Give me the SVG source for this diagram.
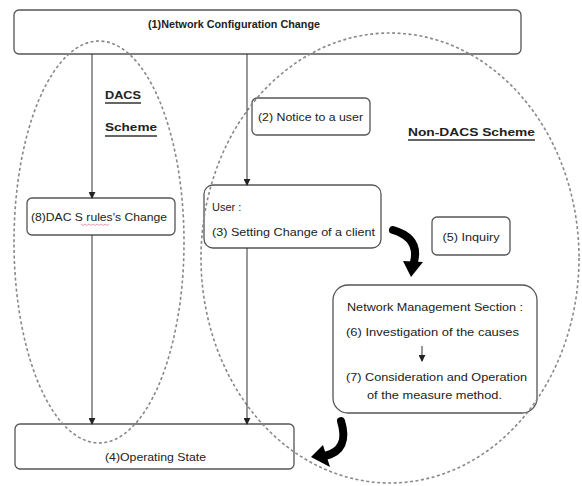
<svg xmlns="http://www.w3.org/2000/svg" width="582" height="486" viewBox="0 0 582 486">
<defs>
<style>
.box{fill:#fff;stroke:#555;stroke-width:1.3}
.scope{fill:none;stroke:#888;stroke-width:1.6;stroke-dasharray:3 2.5}
.t{font-family:"Liberation Sans",Arial,sans-serif;font-size:11px;fill:#222}
.b{font-weight:bold}
.ul{stroke:#333;stroke-width:1.4}
.ln{stroke:#333;stroke-width:1;fill:none}
.thick{fill:none;stroke:#000;stroke-width:8;stroke-linecap:round}
</style>
<marker id="ah" viewBox="0 0 8 8" refX="7" refY="4" markerWidth="7" markerHeight="7" markerUnits="userSpaceOnUse" orient="auto">
<path d="M0,0 L8,4 L0,8 z" fill="#222"/>
</marker>
</defs>
<rect width="582" height="486" fill="#fff"/>

<g id="top">
<rect class="box" x="14" y="10" width="507" height="44" rx="5"/>
<text class="t b" x="234" y="28" text-anchor="middle" textLength="172" lengthAdjust="spacingAndGlyphs">(1)Network Configuration Change</text>
</g>

<g id="dacs-label">
<text class="t b" x="105" y="99" textLength="36" lengthAdjust="spacingAndGlyphs">DACS</text>
<line class="ul" x1="105" y1="103" x2="141" y2="103"/>
<text class="t b" x="105" y="131" textLength="52" lengthAdjust="spacingAndGlyphs">Scheme</text>
<line class="ul" x1="105" y1="136" x2="157" y2="136"/>
</g>

<g id="nondacs-label">
<text class="t b" x="408" y="136" textLength="127" lengthAdjust="spacingAndGlyphs">Non-DACS Scheme</text>
<line class="ul" x1="408" y1="140" x2="535" y2="140"/>
</g>

<g id="n8">
<rect class="box" x="27" y="198" width="148" height="37" rx="5"/>
<text class="t" x="31" y="221" textLength="136" lengthAdjust="spacingAndGlyphs">(8)DAC S rules's Change</text>
<path d="M81,224 l2,1.5 l2,-1.5 l2,1.5 l2,-1.5 l2,1.5 l2,-1.5 l2,1.5 l2,-1.5 l2,1.5 l2,-1.5 l2,1.5 l2,-1.5 l2,1.5 l2,-1.5" fill="none" stroke="#e07090" stroke-width="0.7"/>
</g>

<g id="n2">
<rect class="box" x="252" y="98" width="118" height="37" rx="5"/>
<text class="t" x="258" y="121" textLength="105" lengthAdjust="spacingAndGlyphs">(2) Notice to a user</text>
</g>

<g id="n3">
<rect class="box" x="204" y="185" width="177" height="63" rx="9"/>
<text class="t" x="212" y="211">User :</text>
<text class="t" x="212" y="236" textLength="163" lengthAdjust="spacingAndGlyphs">(3) Setting Change of a client</text>
</g>

<g id="n5">
<rect class="box" x="432" y="217" width="78" height="38" rx="5"/>
<text class="t" x="471" y="241" text-anchor="middle" textLength="57" lengthAdjust="spacingAndGlyphs">(5) Inquiry</text>
</g>

<g id="nms">
<rect class="box" x="333" y="285" width="204" height="128" rx="15"/>
<text class="t" x="347" y="311" textLength="176" lengthAdjust="spacingAndGlyphs">Network Management Section :</text>
<text class="t" x="346" y="336" textLength="173" lengthAdjust="spacingAndGlyphs">(6) Investigation of the causes</text>
<text class="t" x="346" y="381" textLength="181" lengthAdjust="spacingAndGlyphs">(7) Consideration and Operation</text>
<text class="t" x="367" y="399" textLength="135" lengthAdjust="spacingAndGlyphs">of the measure method.</text>
</g>

<g id="n4">
<rect class="box" x="15" y="424" width="279" height="45" rx="5"/>
<text class="t" x="105" y="461" textLength="101" lengthAdjust="spacingAndGlyphs">(4)Operating State</text>
</g>

<g id="scopes">
<ellipse class="scope" cx="99" cy="242" rx="85" ry="201"/>
<ellipse class="scope" cx="390" cy="258" rx="189" ry="225"/>
</g>

<g id="connectors">
<line class="ln" x1="92" y1="54" x2="92" y2="198" marker-end="url(#ah)"/>
<line class="ln" x1="92" y1="235" x2="92" y2="424" marker-end="url(#ah)"/>
<line class="ln" x1="247" y1="54" x2="247" y2="185" marker-end="url(#ah)"/>
<line class="ln" x1="247" y1="248" x2="247" y2="424" marker-end="url(#ah)"/>
<line class="ln" x1="422" y1="346" x2="422" y2="361" marker-end="url(#ah)"/>
<path class="thick" d="M393,230 Q420,238 414,262"/>
<polygon points="403,261 423,262 411,277" fill="#000"/>
<path class="thick" d="M341,421 Q350,450 325,456"/>
<polygon points="323,445 330,467 311,457" fill="#000"/>
</g>
</svg>
